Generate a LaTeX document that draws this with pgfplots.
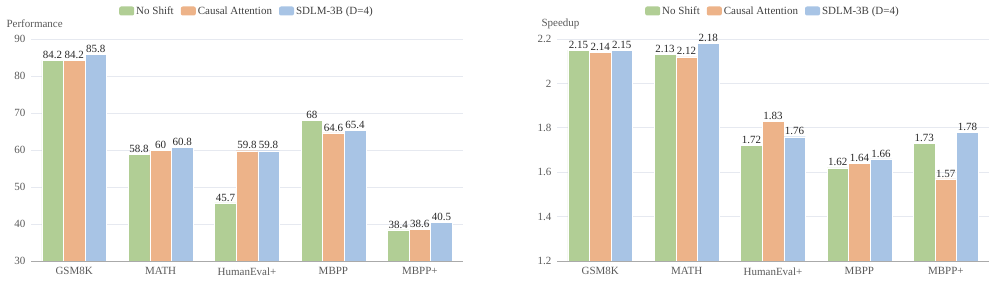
\documentclass[border=0pt]{standalone}
\usepackage{pgfplots}
\pgfplotsset{compat=1.18}
\usepackage{fontspec}
\setmainfont{Liberation Serif}
\definecolor{cgreen}{RGB}{177,206,149}
\definecolor{corange}{RGB}{237,179,137}
\definecolor{cblue}{RGB}{168,196,229}
\definecolor{cgrid}{RGB}{230,233,240}
\definecolor{ctick}{RGB}{90,90,90}
\definecolor{caxis}{RGB}{170,170,170}
\definecolor{clabel}{RGB}{40,40,40}
\pgfplotsset{
  mystyle/.style={
    scale only axis, width=432bp, height=222bp,
    anchor=south west,
    ybar=0pt, bar width=0.25,
    xmin=-0.5, xmax=4.5,
    xtick={0,1,2,3,4},
    xticklabels={GSM8K,MATH,HumanEval+,MBPP,MBPP+},
    axis line style={draw=none},
    major tick length=0pt,
    ymajorgrids, grid style={draw=cgrid, line width=0.8bp},
    /pgf/number format/assume math mode=true,
    tick label style={font=\fontsize{11bp}{13bp}\selectfont, text=ctick},
    xticklabel style={yshift=-3bp},
    yticklabel style={xshift=-2bp},
    nodes near coords,
    every node near coord/.append style={font=\fontsize{11bp}{13bp}\selectfont, text=clabel, inner sep=1.5bp},
    legend columns=3,
    legend style={draw=none, fill=none, font=\fontsize{11bp}{13bp}\selectfont, text=black!75,
      /tikz/every even column/.append style={column sep=5bp},
      inner sep=0pt},
    legend image code/.code={\fill[#1, draw=none, rounded corners=2bp] (0bp,-4.5bp) rectangle (15bp,4.5bp);},
  }
}
\begin{document}
\begin{tikzpicture}[x=1bp,y=1bp]
\useasboundingbox (0,0) rectangle (995,281);
\begin{axis}[mystyle, at={(31bp,20bp)},
  ymin=30, ymax=90, ytick={30,40,50,60,70,80,90},
  legend style={at={(0.5,1)}, anchor=center, yshift=28bp}]
\addplot[fill=cgreen, draw=white, line width=0.3bp] coordinates {(0,84.2) (1,58.8) (2,45.7) (3,68) (4,38.4)};
\addplot[fill=corange, draw=white, line width=0.3bp] coordinates {(0,84.2) (1,60) (2,59.8) (3,64.6) (4,38.6)};
\addplot[fill=cblue, draw=white, line width=0.3bp] coordinates {(0,85.8) (1,60.8) (2,59.8) (3,65.4) (4,40.5)};
\legend{No Shift, Causal Attention, SDLM-3B (D=4)}
\draw[caxis, line width=1bp] (rel axis cs:0,0) -- (rel axis cs:1,0);
\end{axis}
\node[anchor=west, text=ctick, font=\fontsize{11bp}{13bp}\selectfont] at (3,257) {Performance};
\begin{axis}[mystyle, at={(557bp,20bp)},
  ymin=1.2, ymax=2.2, ytick={1.2,1.4,1.6,1.8,2,2.2},
  legend style={at={(0.5,1)}, anchor=center, yshift=28bp}]
\addplot[fill=cgreen, draw=white, line width=0.3bp] coordinates {(0,2.15) (1,2.13) (2,1.72) (3,1.62) (4,1.73)};
\addplot[fill=corange, draw=white, line width=0.3bp] coordinates {(0,2.14) (1,2.12) (2,1.83) (3,1.64) (4,1.57)};
\addplot[fill=cblue, draw=white, line width=0.3bp] coordinates {(0,2.15) (1,2.18) (2,1.76) (3,1.66) (4,1.78)};
\legend{No Shift, Causal Attention, SDLM-3B (D=4)}
\draw[caxis, line width=1bp] (rel axis cs:0,0) -- (rel axis cs:1,0);
\end{axis}
\node[anchor=west, text=ctick, font=\fontsize{11bp}{13bp}\selectfont] at (538,257) {Speedup};
\end{tikzpicture}
\end{document}
